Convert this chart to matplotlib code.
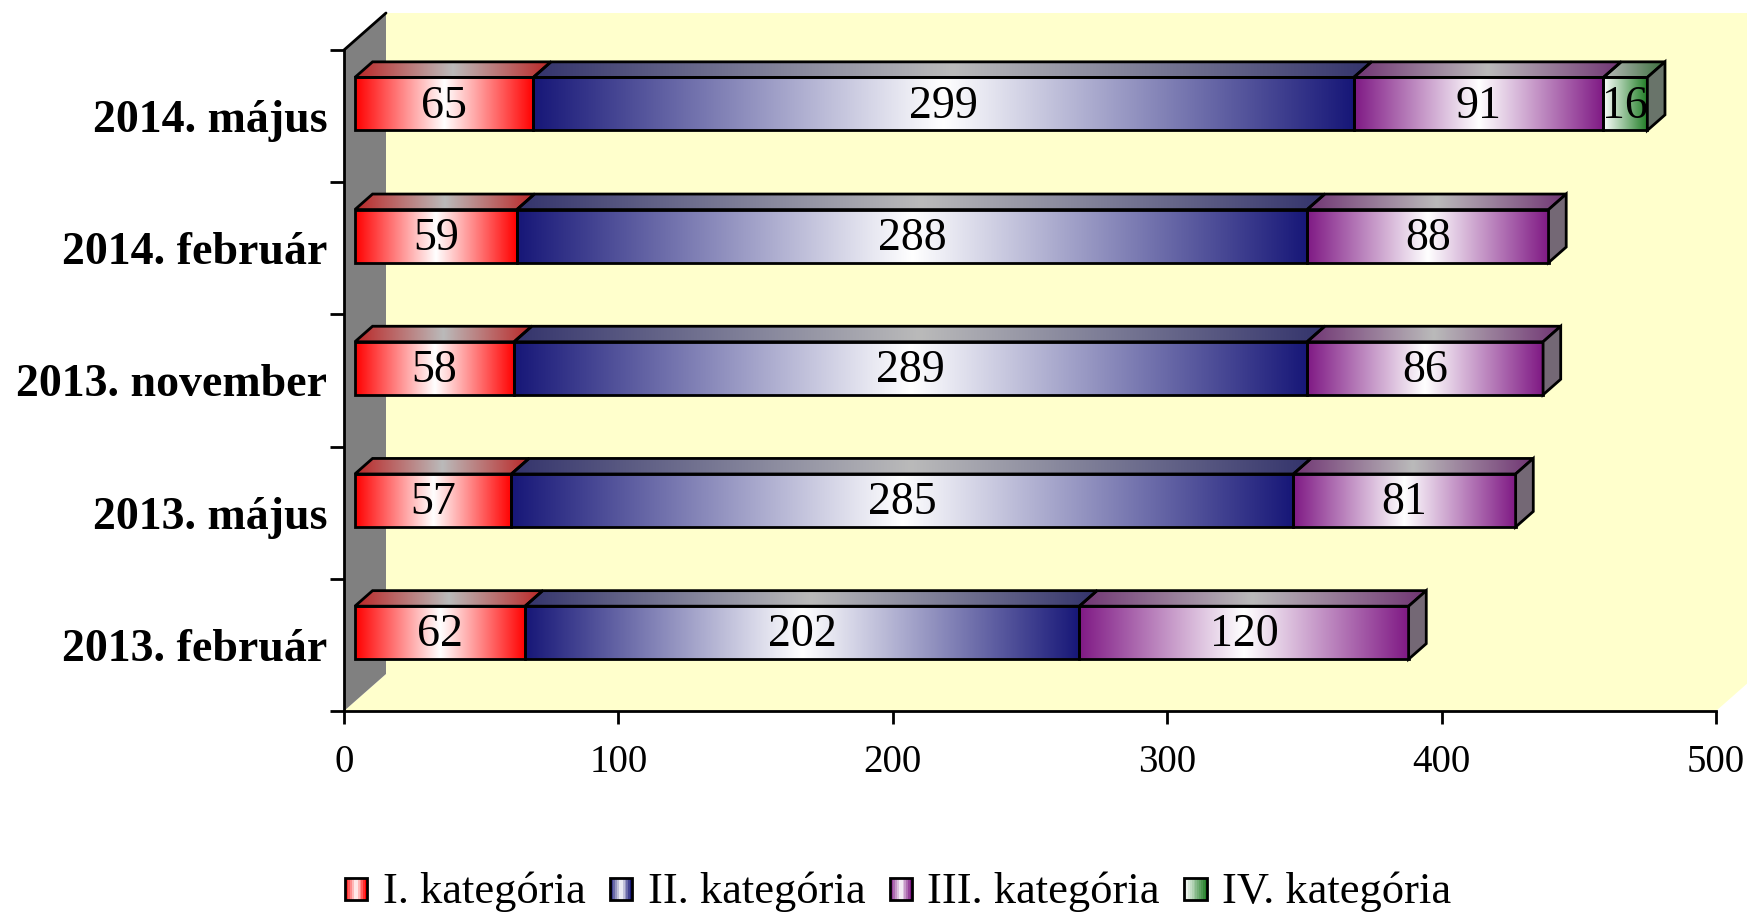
import numpy as np
import matplotlib
matplotlib.use('Agg')
import matplotlib.pyplot as plt
from matplotlib.patches import Polygon, Rectangle
from matplotlib.legend_handler import HandlerBase

# ---------------- data ----------------
categories = ['2013. február', '2013. május', '2013. november', '2014. február', '2014. május']
series_names = ['I. kategória', 'II. kategória', 'III. kategória', 'IV. kategória']
cat_I = [62, 57, 58, 59, 65]
cat_II = [202, 285, 289, 288, 299]
cat_III = [120, 81, 86, 88, 91]
cat_IV = [0, 0, 0, 0, 16]
x_ticks = [0, 100, 200, 300, 400, 500]

series_values = [cat_I, cat_II, cat_III, cat_IV]
edge_colors = [(1.0, 0.0, 0.0), (0.09, 0.09, 0.47), (0.50, 0.10, 0.52), (0.14, 0.50, 0.16)]
grad_modes = ['center', 'center', 'center', 'right']

plt.rcParams['font.family'] = ['Liberation Serif', 'DejaVu Serif']

W, H = 1747, 914
fig = plt.figure(figsize=(W / 100, H / 100), dpi=100)
fig.patch.set_facecolor('white')
ax = fig.add_axes([344 / W, 1 - 711 / H, 1372 / W, 661 / H])
ax.set_autoscale_on(False)
ax.set_xlim(0, 500)
ax.set_ylim(-0.5, len(categories) - 0.5)
ax.patch.set_facecolor('none')

px_x = 1372 / 500.0
px_y = 661 / 5.0
DDX = 42 / px_x          # full depth in x data units
DDY = 37 / px_y          # full depth in y data units
F0X = 0.26               # bar front depth fraction (x)
F0Y = 0.33               # bar front depth fraction (y)
FD = 0.42                # bar depth fraction
BAR_H = 53 / px_y
LABEL_DY = -2.5 / px_y   # small downward nudge of value labels

ymin, ymax = -0.5, len(categories) - 0.5
wall_yellow = '#FFFFCC'

# back wall
ax.add_patch(Polygon([(DDX, ymin + DDY), (500 + DDX * 1.5, ymin + DDY),
                      (500 + DDX * 1.5, ymax + DDY), (DDX, ymax + DDY)],
                     closed=True, facecolor=wall_yellow, edgecolor='none',
                     zorder=0, clip_on=False))
# floor
ax.add_patch(Polygon([(0, ymin), (500, ymin), (500 + DDX, ymin + DDY), (DDX, ymin + DDY)],
                     closed=True, facecolor=wall_yellow, edgecolor='none',
                     zorder=0.5, clip_on=False))
# left wall
ax.add_patch(Polygon([(0, ymin), (DDX, ymin + DDY), (DDX, ymax + DDY), (0, ymax)],
                     closed=True, facecolor='#808080', edgecolor='none',
                     zorder=1, clip_on=False))
ax.plot([0, DDX], [ymax, ymax + DDY], color='black', lw=2, clip_on=False, zorder=5,
        solid_capstyle='round')


def gradient(edge, mode, n=256):
    t = np.linspace(0, 1, n)
    if mode == 'center':
        w = 1 - np.abs(2 * t - 1)
    else:
        w = 1 - t
    edge = np.array(edge)
    cols = edge[None, :] + (1 - edge[None, :]) * w[:, None]
    return cols


def draw_img(cols, extent, clip_poly, z):
    img = cols[None, :, :]
    im = ax.imshow(img, extent=extent, aspect='auto', interpolation='bilinear',
                   origin='lower', zorder=z)
    clip_poly.set_transform(ax.transData)
    im.set_clip_path(clip_poly)
    return im


for i, cat in enumerate(categories):
    left = 0.0
    fx0, fx1 = F0X * DDX, (F0X + FD) * DDX
    fy0, fy1 = F0Y * DDY, (F0Y + FD) * DDY
    yb = i - BAR_H / 2
    yt = i + BAR_H / 2
    last_idx = max(k for k in range(len(series_values)) if series_values[k][i] > 0)
    for k, vals in enumerate(series_values):
        v = vals[i]
        if v <= 0:
            continue
        x0, x1 = left, left + v
        cols = gradient(edge_colors[k], grad_modes[k])
        # front face
        front = [(x0 + fx0, yb + fy0), (x1 + fx0, yb + fy0), (x1 + fx0, yt + fy0), (x0 + fx0, yt + fy0)]
        draw_img(cols, (x0 + fx0, x1 + fx0, yb + fy0, yt + fy0), Polygon(front, closed=True), 3)
        ax.add_patch(Polygon(front, closed=True, facecolor='none', edgecolor='black',
                             lw=2.0, zorder=4, joinstyle='miter'))
        # top face
        top = [(x0 + fx0, yt + fy0), (x1 + fx0, yt + fy0), (x1 + fx1, yt + fy1), (x0 + fx1, yt + fy1)]
        top_cols = 0.58 * cols + 0.15
        draw_img(top_cols, (x0 + fx0, x1 + fx1, yt + fy0, yt + fy1), Polygon(top, closed=True), 3)
        ax.add_patch(Polygon(top, closed=True, facecolor='none', edgecolor='black',
                             lw=2.0, zorder=4, joinstyle='miter'))
        # right end cap
        if k == last_idx:
            side = [(x1 + fx0, yb + fy0), (x1 + fx1, yb + fy1), (x1 + fx1, yt + fy1), (x1 + fx0, yt + fy0)]
            ec = np.array(edge_colors[k])
            side_col = np.clip(0.12 * ec + 0.88 * 0.45, 0, 1)
            ax.add_patch(Polygon(side, closed=True, facecolor=side_col, edgecolor='black',
                                 lw=2.0, zorder=4, joinstyle='miter'))
        # value label
        ax.text((x0 + x1) / 2 + fx0, i + fy0 + LABEL_DY, str(v), ha='center', va='center',
                fontsize=33, color='black', zorder=6)
        left = x1

# spines / ticks
for s in ['top', 'right']:
    ax.spines[s].set_visible(False)
for s in ['left', 'bottom']:
    ax.spines[s].set_linewidth(2)
    ax.spines[s].set_color('black')
    ax.spines[s].set_zorder(5)

ax.set_xticks(x_ticks)
ax.set_xticklabels([str(t) for t in x_ticks], fontsize=28)
ax.tick_params(axis='x', length=9, width=2, direction='out', pad=15)

ax.set_yticks(np.arange(len(categories) + 1) - 0.5)
ax.set_yticklabels([''] * (len(categories) + 1))
ax.tick_params(axis='y', which='major', length=10, width=2, direction='out')
ax.set_yticks(np.arange(len(categories)), minor=True)
ax.set_yticklabels(categories, minor=True, fontsize=33, fontweight='bold')
ax.tick_params(axis='y', which='minor', length=0, pad=12)


# legend
class GradHandler(HandlerBase):
    def __init__(self, edge, mode):
        super().__init__()
        self.edge = edge
        self.mode = mode

    def create_artists(self, legend, orig_handle, xdescent, ydescent, width, height, fontsize, trans):
        size = width
        x0 = -xdescent
        y0 = -ydescent + (height - size) / 2 - size * 0.05
        n = 12
        cols = gradient(self.edge, self.mode, n)
        arts = []
        for j in range(n):
            r = Rectangle((x0 + j * size / n, y0), size / n, size, facecolor=cols[j],
                          edgecolor='none', lw=0, transform=trans)
            arts.append(r)
        arts.append(Rectangle((x0, y0), size, size, facecolor='none', edgecolor='black',
                              lw=2.0, transform=trans))
        return arts


handles = [Rectangle((0, 0), 1, 1) for _ in series_names]
hmap = {h: GradHandler(edge_colors[k], grad_modes[k]) for k, h in enumerate(handles)}
fig.legend(handles, series_names, handler_map=hmap, loc='center',
           bbox_to_anchor=(898 / W, 1 - 892 / H), bbox_transform=fig.transFigure,
           ncol=4, frameon=False, fontsize=32, handlelength=0.5, handleheight=0.7,
           handletextpad=0.35, columnspacing=0.55, borderpad=0, borderaxespad=0)

fig.savefig('out.png', dpi=100, facecolor='white')
